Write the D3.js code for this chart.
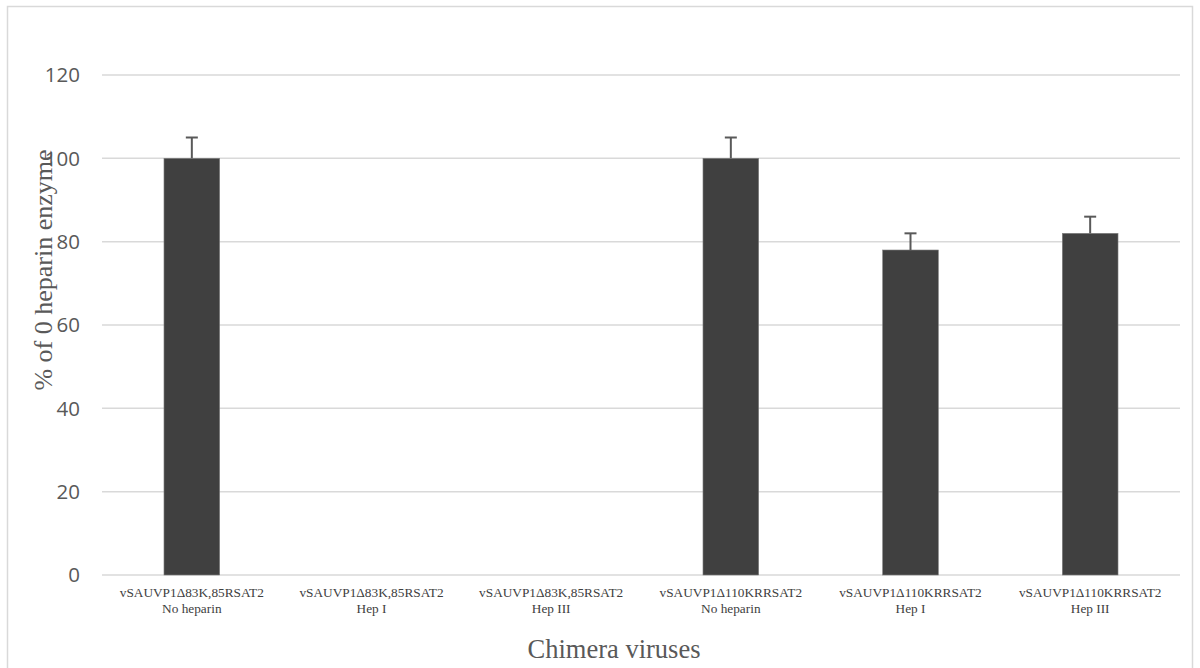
<!DOCTYPE html>
<html><head><meta charset="utf-8">
<script src="https://cdn.jsdelivr.net/npm/d3@7"></script>
<style>body{margin:0;background:#fff}svg{display:block}</style>
</head><body>
<script>
const categories = [
  ["vSAUVP1\u039483K,85RSAT2","No heparin"],
  ["vSAUVP1\u039483K,85RSAT2","Hep I"],
  ["vSAUVP1\u039483K,85RSAT2","Hep III"],
  ["vSAUVP1\u0394110KRRSAT2","No heparin"],
  ["vSAUVP1\u0394110KRRSAT2","Hep I"],
  ["vSAUVP1\u0394110KRRSAT2","Hep III"]
];
const values = [100, 0, 0, 100, 78, 82];
const errors = [5, 0, 0, 5, 4, 4];
const yTicks = [0, 20, 40, 60, 80, 100, 120];

const W = 1200, H = 668;
const svg = d3.select("body").append("svg").attr("width", W).attr("height", H);
svg.append("rect").attr("x", 7.5).attr("y", 6.5).attr("width", 1185).attr("height", 680)
  .attr("fill", "#fff").attr("stroke", "#d9d9d9").attr("stroke-width", 1.5);

const x = d3.scaleBand().domain(d3.range(categories.length)).range([102, 1180]).paddingInner(0.69).paddingOuter(0.345);
const y = d3.scaleLinear().domain([0, 120]).range([575, 75]);

// gridlines
svg.append("g").selectAll("line").data(yTicks).join("line")
  .attr("x1", 102).attr("x2", 1180)
  .attr("y1", d => y(d)).attr("y2", d => y(d))
  .attr("stroke", "#d9d9d9").attr("stroke-width", 1.5);

// y tick labels
svg.append("g").selectAll("text").data(yTicks).join("text")
  .attr("x", 80).attr("y", d => y(d)).attr("dy", "0.36em")
  .attr("text-anchor", "end").attr("fill", "#595959")
  .style("font-family", "'Open Sans', 'Liberation Sans', sans-serif").style("font-size", "20.5px")
  .text(d => d);

// bars
svg.append("g").selectAll("rect").data(values).join("rect")
  .attr("x", (d, i) => x(i)).attr("width", x.bandwidth())
  .attr("y", d => y(d)).attr("height", d => y(0) - y(d))
  .attr("fill", "#404040").attr("stroke", "#7f7f7f").attr("stroke-width", 0.6);

// error bars
const eb = svg.append("g").attr("stroke", "#595959").attr("stroke-width", 2);
values.forEach((v, i) => {
  if (!errors[i]) return;
  const cx = x(i) + x.bandwidth() / 2;
  eb.append("line").attr("x1", cx).attr("x2", cx).attr("y1", y(v)).attr("y2", y(v + errors[i]));
  eb.append("line").attr("x1", cx - 6).attr("x2", cx + 6).attr("y1", y(v + errors[i])).attr("y2", y(v + errors[i]));
});

// category labels
const cl = svg.append("g").style("font-family", "'Liberation Serif', 'Times New Roman', serif")
  .style("font-size", "13.3px").attr("fill", "#404040").attr("text-anchor", "middle");
categories.forEach((c, i) => {
  const cx = x(i) + x.bandwidth() / 2;
  cl.append("text").attr("x", cx).attr("y", 597).text(c[0]);
  cl.append("text").attr("x", cx).attr("y", 613).text(c[1]);
});

// axis titles
svg.append("text").attr("x", 614).attr("y", 658).attr("text-anchor", "middle")
  .attr("fill", "#595959").style("font-family", "'Liberation Serif', serif").style("font-size", "26.5px")
  .text("Chimera viruses");
svg.append("text").attr("transform", "translate(52,270) rotate(-90)").attr("text-anchor", "middle")
  .attr("fill", "#595959").style("font-family", "'Liberation Serif', serif").style("font-size", "26px")
  .text("% of 0 heparin enzyme");
</script>
</body></html>
